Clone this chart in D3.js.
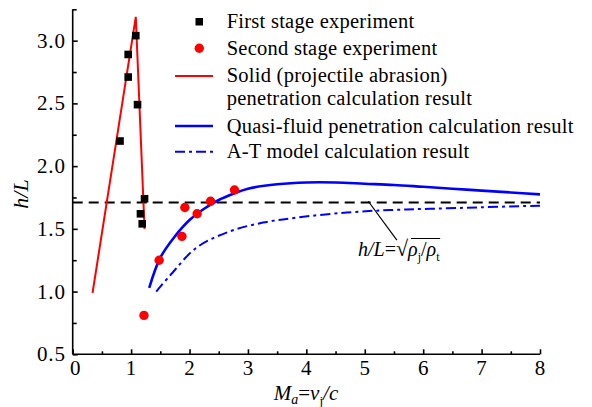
<!DOCTYPE html>
<html><head><meta charset="utf-8">
<script src="https://cdn.jsdelivr.net/npm/d3@7"></script>
<style>body{margin:0;background:#fff}svg{display:block}</style>
</head><body><svg id="c" width="592" height="407" font-family="'Liberation Serif', 'DejaVu Serif', serif"></svg>
<script>
// Data
const firstStageMa = [0.81, 0.95, 0.95, 1.08, 1.11, 1.23, 1.16, 1.19];
const firstStageHL = [2.20, 2.71, 2.89, 3.04, 2.49, 1.74, 1.62, 1.54];
const secondStageMa = [1.22, 1.48, 1.87, 1.92, 2.13, 2.36, 2.77];
const secondStageHL = [0.81, 1.25, 1.44, 1.67, 1.62, 1.72, 1.81];
const solidMa = [0.34, 1.08, 1.23];
const solidHL = [0.99, 3.19, 1.50];
const quasiMa = [1.31, 1.5, 1.75, 2.0, 2.25, 2.5, 2.75, 3.0, 3.5, 4.0, 4.5, 5.0, 5.5, 6.0, 6.5, 7.0, 7.5, 8.0];
const quasiHL = [1.03, 1.27, 1.44, 1.57, 1.66, 1.73, 1.78, 1.82, 1.855, 1.87, 1.87, 1.86, 1.85, 1.835, 1.82, 1.805, 1.79, 1.775];
const atMa = [1.43, 1.67, 2.12, 2.69, 3.26, 3.84, 4.69, 5.43, 6.12, 7.0, 8.0];
const atHL = [1.00, 1.13, 1.35, 1.48, 1.55, 1.59, 1.63, 1.65, 1.66, 1.672, 1.685];
const densityMa = [0, 8];
const densityHL = [1.71, 1.71];
const xTicks = [0, 1, 2, 3, 4, 5, 6, 7, 8];
const yTicks = [0.5, 1.0, 1.5, 2.0, 2.5, 3.0];
const legendLabels = ["First stage experiment", "Second stage experiment", "Solid (projectile abrasion)", "penetration calculation result", "Quasi-fluid penetration calculation result", "A-T model calculation result"];

const FONT = "'Liberation Serif', 'DejaVu Serif', serif";
const svg = d3.select("#c");
const x = d3.scaleLinear().domain([0, 8]).range([72.7, 540]);
const y = d3.scaleLinear().domain([0.5, 3.25]).range([354.3, 9.3]);

// axes
const gx = svg.append("g").attr("transform", `translate(0,${y(0.5)})`);
gx.call(d3.axisTop(x).tickValues(d3.range(0, 8.01, 0.5)).tickSize(4).tickFormat(""));
gx.selectAll(".tick line").attr("y2", d => Number.isInteger(d) ? -5 : -3);
gx.select(".domain").attr("d", `M${x(0)},0H${x(8)}`);
const gxl = svg.append("g");
gxl.selectAll("text").data(xTicks).join("text")
  .attr("x", d => x(d) + (d === 0 ? 2.5 : 0)).attr("y", y(0.5) + 21).attr("text-anchor", "middle")
  .style("font-size", "21px").text(d => d);

const gy = svg.append("g").attr("transform", `translate(${x(0)},0)`);
gy.call(d3.axisRight(y).tickValues(d3.range(0.5, 3.26, 0.25)).tickSize(4).tickFormat(""));
gy.selectAll(".tick line").attr("x2", d => Math.abs(d * 2 - Math.round(d * 2)) < 1e-6 ? 5 : 4);
gy.select(".domain").attr("d", `M0,${y(3.25)}V${y(0.5)}`);
svg.selectAll(".domain, .tick line").attr("stroke", "#000").attr("stroke-width", 1.6);
svg.append("g").selectAll("text").data(yTicks).join("text")
  .attr("x", x(0) - 7).attr("y", d => y(d) + 7).attr("text-anchor", "end")
  .style("font-size", "21px").style("letter-spacing", "0.8px").text(d => d.toFixed(1));

// axis titles
const yt = svg.append("text").attr("transform", `translate(28,194) rotate(-90)`)
  .attr("text-anchor", "middle").style("font-size", "22px").style("font-style", "italic");
yt.text("h/L");
const xt = svg.append("text").attr("x", 306).attr("y", 400).attr("text-anchor", "middle").style("font-size", "21px");
xt.append("tspan").style("font-style", "italic").text("M");
xt.append("tspan").style("font-style", "italic").style("font-size", "14px").attr("dy", 4).text("a");
xt.append("tspan").attr("dy", -4).text("=");
xt.append("tspan").style("font-style", "italic").text("v");
xt.append("tspan").style("font-size", "13px").attr("dy", 5).text("j");
xt.append("tspan").attr("dy", -5).style("font-style", "italic").text("/c");

const line = d3.line().x(d => x(d[0])).y(d => y(d[1]));
const zip = (a, b) => a.map((v, i) => [v, b[i]]);

// dashed density line
svg.append("path").attr("d", line(zip(densityMa, densityHL))).attr("fill", "none")
  .attr("stroke", "#000").attr("stroke-width", 2).attr("stroke-dasharray", "10,6");
// solid red
svg.append("path").attr("d", line(zip(solidMa, solidHL))).attr("fill", "none")
  .attr("stroke", "#ff0000").attr("stroke-width", 2);
// quasi-fluid
svg.append("path").attr("d", line.curve(d3.curveCatmullRom)(zip(quasiMa, quasiHL))).attr("fill", "none")
  .attr("stroke", "#0000ff").attr("stroke-width", 2.6);
// A-T
svg.append("path").attr("d", line.curve(d3.curveCatmullRom)(zip(atMa, atHL))).attr("fill", "none")
  .attr("stroke", "#0000ff").attr("stroke-width", 2).attr("stroke-dasharray", "10,4,3,4");

// points
svg.append("g").selectAll("rect").data(zip(firstStageMa, firstStageHL)).join("rect")
  .attr("x", d => x(d[0]) - 3.8).attr("y", d => y(d[1]) - 3.8).attr("width", 7.6).attr("height", 7.6).attr("fill", "#000");
svg.append("g").selectAll("circle").data(zip(secondStageMa, secondStageHL)).join("circle")
  .attr("cx", d => x(d[0])).attr("cy", d => y(d[1])).attr("r", 4.7).attr("fill", "#ff0000");

// annotation
svg.append("line").attr("x1", x(5.06)).attr("y1", y(1.72)).attr("x2", x(5.55)).attr("y2", y(1.41))
  .attr("stroke", "#000").attr("stroke-width", 1.2);
const an = svg.append("text").attr("x", 358).attr("y", 256).style("font-size", "20px");
an.append("tspan").style("font-style", "italic").text("h/L");
an.append("tspan").text("=");
an.append("tspan").style("font-size", "22px").text("√");
an.append("tspan").style("font-style", "italic").text("ρ");
an.append("tspan").style("font-size", "12px").attr("dy", 5).text("j");
an.append("tspan").attr("dy", -5).text("/");
an.append("tspan").style("font-style", "italic").text("ρ");
an.append("tspan").style("font-size", "12px").attr("dy", 5).text("t");

// legend
const lg = svg.append("g");
lg.append("rect").attr("x", 195.5).attr("y", 18).attr("width", 7.5).attr("height", 7.5).attr("fill", "#000");
lg.append("circle").attr("cx", 199.3).attr("cy", 48.3).attr("r", 4.7).attr("fill", "#ff0000");
lg.append("line").attr("x1", 175).attr("x2", 213).attr("y1", 76).attr("y2", 76).attr("stroke", "#ff0000").attr("stroke-width", 2);
lg.append("line").attr("x1", 175).attr("x2", 213).attr("y1", 126).attr("y2", 126).attr("stroke", "#0000ff").attr("stroke-width", 2.6);
lg.append("line").attr("x1", 175).attr("x2", 213).attr("y1", 151.7).attr("y2", 151.7).attr("stroke", "#0000ff").attr("stroke-width", 2).attr("stroke-dasharray", "10,4,3,4");
const ly = [28.3, 55, 82, 104.5, 132.7, 158.3];
lg.selectAll("text").data(legendLabels).join("text").attr("x", 226.7).attr("y", (d, i) => ly[i])
  .style("font-size", "20.5px").style("letter-spacing", "0.25px").text(d => d);
svg.selectAll("text").attr("font-family", FONT).style("font-family", FONT).attr("fill", "#000");

// radical overline
const anBox = an.node().getBBox();
svg.append("line").attr("x1", 411).attr("x2", anBox.x + anBox.width).attr("y1", 238.5).attr("y2", 238.5).attr("stroke", "#000").attr("stroke-width", 1);
</script></body></html>
